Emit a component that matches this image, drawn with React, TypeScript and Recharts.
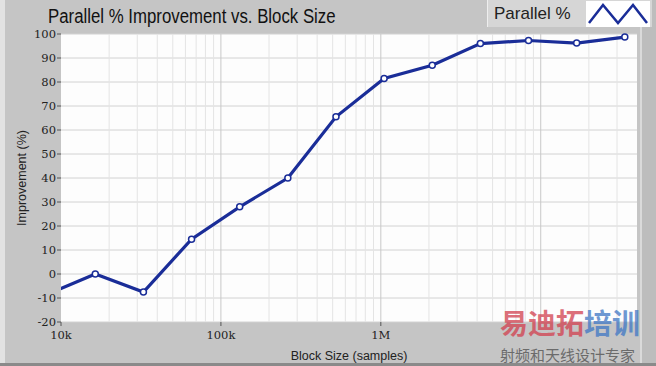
import { LineChart, Line, XAxis, YAxis, CartesianGrid, ReferenceLine } from 'recharts';

const blockSizes = [8192, 16384, 32768, 65536, 131072, 262144, 524288, 1048576, 2097152, 4194304, 8388608, 16777216, 33554432];
const improvement = [-8.5, 0, -7.5, 14.5, 28, 40, 65.5, 81.5, 87, 96, 97.3, 96.2, 98.7];

const xTicks = [10000, 100000, 1000000];
const yTicks = [-20, -10, 0, 10, 20, 30, 40, 50, 60, 70, 80, 90, 100];
const majorGrid = [100000, 1000000, 10000000];
const minorGrid = [
  20000, 30000, 40000, 50000, 60000, 70000, 80000, 90000,
  200000, 300000, 400000, 500000, 600000, 700000, 800000, 900000,
  2000000, 3000000, 4000000, 5000000, 6000000, 7000000, 8000000, 9000000,
  20000000, 30000000,
];

const chartData = blockSizes.map((size, i) => ({ size, pct: improvement[i] }));

const BLUE = '#1a2d98';

const fmtX = (v: number) => (v >= 1000000 ? `${v / 1000000}M` : `${v / 1000}k`);

function LegendBox() {
  return (
    <div style={{ position: 'absolute', left: 487, top: 0, display: 'flex', alignItems: 'center', width: 165, height: 27, background: '#d6d6d6', borderLeft: '1px solid #eee', boxSizing: 'border-box' }}>
      <span style={{ fontFamily: '"Liberation Sans", sans-serif', fontSize: 17, color: '#222', marginLeft: 6, width: 92 }}>Parallel %</span>
      <svg width={64} height={26} style={{ background: '#fff' }}>
        <polyline points="3,22 17,4 32,22 47,4 61,22" fill="none" stroke={BLUE} strokeWidth={2.5} />
      </svg>
    </div>
  );
}

export default function App() {
  return (
    <div style={{ position: 'absolute', left: 0, top: 0, width: 656, height: 366, background: '#c5c5c5', overflow: 'hidden' }}>
      <div style={{ position: 'absolute', left: 0, top: 0, width: 5, height: 366, background: '#e2e2e2' }} />
      <div style={{ position: 'absolute', left: 640, top: 0, width: 16, height: 366, background: '#bdbdbd', borderLeft: '2px solid #dadada' }} />
      <div style={{ position: 'absolute', left: 0, top: 363, width: 656, height: 3, background: '#8a8a8a' }} />
      <div style={{ position: 'absolute', left: 48, top: 4, fontFamily: '"Liberation Sans", sans-serif', fontSize: 20, lineHeight: '24px', color: '#111', whiteSpace: 'nowrap', transform: 'scaleX(0.84)', transformOrigin: 'left top' }}>
        Parallel % Improvement vs. Block Size
      </div>
      <LegendBox />
      <LineChart width={656} height={366} data={chartData} margin={{ top: 34, right: 19, left: 0, bottom: 0 }} style={{ position: 'absolute', left: 0, top: 0 }}>
        <CartesianGrid vertical={false} stroke="#d2d2d2" fill="#fdfdfd" strokeWidth={1} />
        {minorGrid.map((v) => (
          <ReferenceLine key={v} x={v} stroke="#e4e4e4" strokeWidth={1} />
        ))}
        {majorGrid.map((v) => (
          <ReferenceLine key={v} x={v} stroke="#c8c8c8" strokeWidth={1} />
        ))}
        <XAxis
          dataKey="size"
          type="number"
          scale="log"
          domain={[10000, 40000000]}
          allowDataOverflow
          ticks={xTicks}
          tickFormatter={fmtX}
          height={44}
          axisLine={false}
          tickSize={4}
          tickMargin={5}
          tickLine={{ stroke: '#555' }}
          tick={{ fill: '#222', fontSize: 11.5, fontFamily: '"DejaVu Serif", serif' }}
          label={{ value: 'Block Size (samples)', position: 'insideBottom', offset: 6, fill: '#222', fontSize: 12.5, fontFamily: '"Liberation Sans", sans-serif' }}
        />
        <YAxis
          type="number"
          domain={[-20, 100]}
          ticks={yTicks}
          width={61}
          axisLine={false}
          tickSize={4}
          tickMargin={1}
          tickLine={{ stroke: '#555' }}
          tick={{ fill: '#222', fontSize: 11.5, fontFamily: '"DejaVu Serif", serif' }}
          label={{ value: 'Improvement (%)', angle: -90, position: 'insideLeft', offset: 22, fill: '#222', fontSize: 12.5, fontFamily: '"Liberation Sans", sans-serif', style: { textAnchor: 'middle' } }}
        />
        <Line
          type="linear"
          dataKey="pct"
          name="Parallel %"
          stroke={BLUE}
          strokeWidth={3.2}
          dot={{ r: 3, fill: '#fff', stroke: BLUE, strokeWidth: 1.5 }}
          isAnimationActive={false}
        />
      </LineChart>
      <div style={{ position: 'absolute', left: 500, top: 307, fontFamily: '"Noto Sans CJK SC", sans-serif', fontWeight: 700, fontSize: 28, lineHeight: '30px', whiteSpace: 'nowrap', opacity: 0.75 }}>
        <span style={{ color: '#d2404f' }}>易迪拓</span>
        <span style={{ color: '#3f77c4' }}>培训</span>
      </div>
      <div style={{ position: 'absolute', left: 500, top: 346, fontFamily: '"Noto Sans CJK SC", sans-serif', fontSize: 15, lineHeight: '17px', color: '#555', whiteSpace: 'nowrap', opacity: 0.8 }}>
        射频和天线设计专家
      </div>
    </div>
  );
}
